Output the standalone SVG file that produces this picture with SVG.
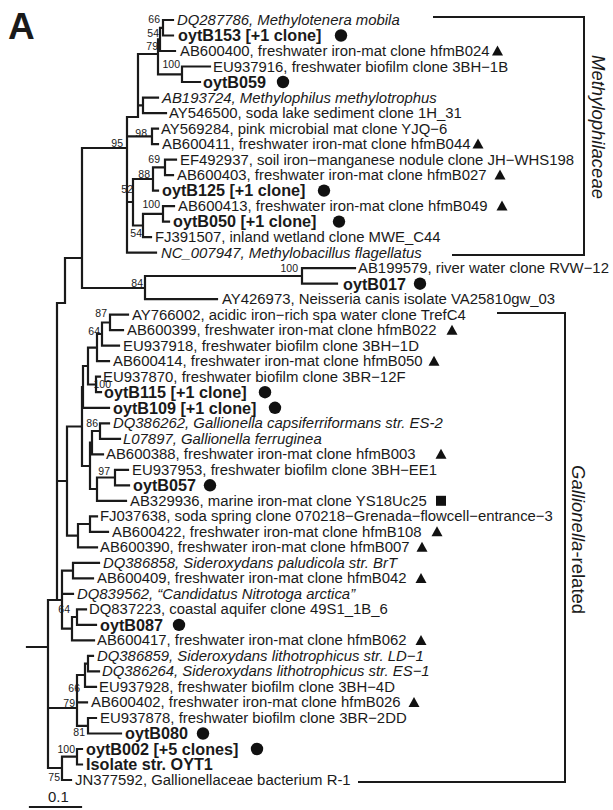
<svg xmlns="http://www.w3.org/2000/svg" width="613" height="810" viewBox="0 0 613 810">
<style>
text{font-family:"Liberation Sans",Arial,sans-serif;fill:#1a1a1a}
.t{font-size:14.9px}
.i{font-size:14.9px;font-style:italic}
.b{font-size:16.2px;font-weight:bold}
.bs{font-size:10.5px;text-anchor:end}
.br{fill:none;stroke:#1a1a1a;stroke-width:2.2;stroke-linecap:square}
.cl{fill:none;stroke:#1a1a1a;stroke-width:2}
.sym{fill:#111}
.lab{font-size:18.5px}
</style>
<defs>
<circle id="dot" r="6.2" class="sym"/>
<path id="tri" d="M0,-5.5L5.5,4.5H-5.5Z" class="sym"/>
<rect id="sq" x="-5" y="-5" width="10" height="10" class="sym"/>
</defs>
<text x="8" y="39" style="font-size:37px;font-weight:bold">A</text>
<g id="connectors">
<path class="br" d="M163,20H173M163,35.5H173M163,20V35.5
M160,27.8V51M160,27.8H163M160,51H175
M182,66.5V82M182,66.5H210M182,82H200
M158,39.4V74.3M158,39.4H160M158,74.3H182
M138,54V117M138,54H158
M143,97.6V113.1M143,97.6H158M143,113.1H166M138,105.3H143
M152,128.6V144.1M152,128.6H158M152,144.1H158
M127,117V252.7M127,117H138M127,136.3H152M82,148H127
M165,159.6V175.1M165,159.6H176M165,175.1H173
M153,167.4V190.6M153,167.4H165M153,190.6H158
M163,206.1V221.6M163,206.1H174M163,221.6H169
M143,213.9V237.1M143,213.9H163M143,237.1H151
M133,179V225.5M133,179H153M133,225.5H143M127,202H133
M127,252.7H156
M302,268.2V283.7M302,268.2H355M302,283.7H337
M145,276V299.2M145,276H302M145,299.2H217
M82,148V288M82,288H145
M65,258V303M65,258H82M57,303H65
M110,314.7V330.2M110,314.7H128M110,330.2H123
M102,322.5V345.7M102,322.5H110M102,345.7H119
M97,334V361.2M97,334H102M97,361.2H109
M96,376.7V392.2M96,376.7H100M96,392.2H101
M88,347.6V384.5M88,347.6H97M88,384.5H96
M83,366V407.8M83,366H88M83,407.8H109
M100,423.3V438.8M100,423.3H109M100,438.8H120
M92,431V454.3M92,431H100M92,454.3H103
M115,469.8V485.3M115,469.8H128M115,485.3H129
M97,477.5V500.8M97,477.5H115M97,500.8H126
M90,442.6V489M90,442.6H92M90,489H97
M82,387V466M82,387H83M82,466H90
M90,516.3V531.8M90,516.3H97M90,531.8H108
M78,524V547.3M78,524H90M78,547.3H97
M67,426.5V535.6M67,426.5H82M67,535.6H78
M73,562.9V578.4M73,562.9H99M73,578.4H93
M77,609.4V624.9M77,609.4H86M77,624.9H96
M72,617V640.4M72,617H77M72,640.4H94
M62,570.6V628.7M62,570.6H73M62,593.9H73M62,628.7H72
M57,303V600M57,481H67
M88,655.9V671.4M88,655.9H93M88,671.4H99
M85,663.6V686.9M85,663.6H88M85,686.9H96
M88,718V733.5M88,718H96M88,733.5H121
M77,675V725.8M77,675H85M77,702.4H87M77,725.8H88
M77,749V764.5M77,749H82M77,764.5H82
M62,756.7V780M62,756.7H77M62,780H71
M48,600V768M48,600H62M48,708H77M48,768H62M27,647H48"/>
<path class="cl" d="M433,17H584V255H452"/>
<path class="cl" d="M497,313H565V782H358"/>
<path class="br" d="M30,807H81"/>
</g>
<g id="bootstrap">
<text class="bs" x="160" y="23">66</text>
<text class="bs" x="159" y="37">54</text>
<text class="bs" x="158" y="50">79</text>
<text class="bs" x="180" y="68">100</text>
<text class="bs" x="147" y="137">98</text>
<text class="bs" x="123" y="147">95</text>
<text class="bs" x="160" y="163">69</text>
<text class="bs" x="150" y="178">88</text>
<text class="bs" x="133" y="193">52</text>
<text class="bs" x="160" y="208">100</text>
<text class="bs" x="142" y="237">54</text>
<text class="bs" x="298" y="272">100</text>
<text class="bs" x="143" y="287">84</text>
<text class="bs" x="107" y="317">87</text>
<text class="bs" x="100" y="335">64</text>
<text class="bs" x="111" y="388">100</text>
<text class="bs" x="98" y="427">86</text>
<text class="bs" x="110" y="475">97</text>
<text class="bs" x="70" y="613">64</text>
<text class="bs" x="80" y="692">66</text>
<text class="bs" x="75" y="707">79</text>
<text class="bs" x="85" y="736">81</text>
<text class="bs" x="75" y="753">100</text>
<text class="bs" x="60" y="781">75</text>
</g>
<g id="leaf01"><text class="i" x="177" y="25">DQ287786, Methylotenera mobila</text></g>
<g id="leaf02"><text class="b" x="178" y="41.3">oytB153 [+1 clone]</text><use href="#dot" x="341" y="35.5"/></g>
<g id="leaf03"><text class="t" x="180" y="56">AB600400, freshwater iron-mat clone hfmB024</text><use href="#tri" x="497.5" y="51"/></g>
<g id="leaf04"><text class="t" x="213" y="71.5">EU937916, freshwater biofilm clone 3BH−1B</text></g>
<g id="leaf05"><text class="b" x="203" y="87.8">oytB059</text><use href="#dot" x="283" y="82"/></g>
<g id="leaf06"><text class="i" x="162" y="102.6">AB193724, Methylophilus methylotrophus</text></g>
<g id="leaf07"><text class="t" x="169" y="118.1">AY546500, soda lake sediment clone 1H_31</text></g>
<g id="leaf08"><text class="t" x="161" y="133.6">AY569284, pink microbial mat clone YJQ−6</text></g>
<g id="leaf09"><text class="t" x="162" y="149.1">AB600411, freshwater iron-mat clone hfmB044</text><use href="#tri" x="478" y="144.1"/></g>
<g id="leaf10"><text class="t" x="180" y="164.6">EF492937, soil iron−manganese nodule clone JH−WHS198</text></g>
<g id="leaf11"><text class="t" x="177" y="180.1">AB600403, freshwater iron-mat clone hfmB027</text><use href="#tri" x="500" y="175.1"/></g>
<g id="leaf12"><text class="b" x="162" y="196.4">oytB125 [+1 clone]</text><use href="#dot" x="324" y="190.6"/></g>
<g id="leaf13"><text class="t" x="178" y="211.1">AB600413, freshwater iron-mat clone hfmB049</text><use href="#tri" x="502" y="206.1"/></g>
<g id="leaf14"><text class="b" x="173" y="227.4">oytB050 [+1 clone]</text><use href="#dot" x="339" y="221.6"/></g>
<g id="leaf15"><text class="t" x="155" y="242.1">FJ391507, inland wetland clone MWE_C44</text></g>
<g id="leaf16"><text class="i" x="161" y="257.7">NC_007947, Methylobacillus flagellatus</text></g>
<g id="leaf17"><text class="t" x="358" y="273.2">AB199579, river water clone RVW−12</text></g>
<g id="leaf18"><text class="b" x="343" y="289.5">oytB017</text><use href="#dot" x="420" y="283.7"/></g>
<g id="leaf19"><text class="t" x="222" y="304.2">AY426973, Neisseria canis isolate VA25810gw_03</text></g>
<g id="leaf20"><text class="t" x="132" y="319.7">AY766002, acidic iron−rich spa water clone TrefC4</text></g>
<g id="leaf21"><text class="t" x="127" y="335.2">AB600399, freshwater iron-mat clone hfmB022</text><use href="#tri" x="452" y="330.2"/></g>
<g id="leaf22"><text class="t" x="123" y="350.7">EU937918, freshwater biofilm clone 3BH−1D</text></g>
<g id="leaf23"><text class="t" x="113" y="366.2">AB600414, freshwater iron-mat clone hfmB050</text><use href="#tri" x="434" y="361.2"/></g>
<g id="leaf24"><text class="t" x="103" y="381.7">EU937870, freshwater biofilm clone 3BR−12F</text></g>
<g id="leaf25"><text class="b" x="104" y="398">oytB115 [+1 clone]</text><use href="#dot" x="265" y="392.2"/></g>
<g id="leaf26"><text class="b" x="113" y="413.6">oytB109 [+1 clone]</text><use href="#dot" x="275" y="407.8"/></g>
<g id="leaf27"><text class="i" x="113" y="428.3">DQ386262, Gallionella capsiferriformans str. ES-2</text></g>
<g id="leaf28"><text class="i" x="123" y="443.8">L07897, Gallionella ferruginea</text></g>
<g id="leaf29"><text class="t" x="106" y="459.3">AB600388, freshwater iron-mat clone hfmB003</text><use href="#tri" x="441" y="454.3"/></g>
<g id="leaf30"><text class="t" x="132" y="474.8">EU937953, freshwater biofilm clone 3BH−EE1</text></g>
<g id="leaf31"><text class="b" x="133" y="491.1">oytB057</text><use href="#dot" x="210" y="485.3"/></g>
<g id="leaf32"><text class="t" x="130" y="505.8">AB329936, marine iron-mat clone YS18Uc25</text><use href="#sq" x="441" y="500.8"/></g>
<g id="leaf33"><text class="t" x="100" y="521.3">FJ037638, soda spring clone 070218−Grenada−flowcell−entrance−3</text></g>
<g id="leaf34"><text class="t" x="112" y="536.8">AB600422, freshwater iron-mat clone hfmB108</text><use href="#tri" x="437" y="531.8"/></g>
<g id="leaf35"><text class="t" x="100" y="552.3">AB600390, freshwater iron-mat clone hfmB007</text><use href="#tri" x="422" y="547.3"/></g>
<g id="leaf36"><text class="i" x="103" y="567.9">DQ386858, Sideroxydans paludicola str. BrT</text></g>
<g id="leaf37"><text class="t" x="97" y="583.4">AB600409, freshwater iron-mat clone hfmB042</text><use href="#tri" x="421" y="578.4"/></g>
<g id="leaf38"><text class="i" x="77" y="598.9">DQ839562, “Candidatus Nitrotoga arctica”</text></g>
<g id="leaf39"><text class="t" x="89" y="614.4">DQ837223, coastal aquifer clone 49S1_1B_6</text></g>
<g id="leaf40"><text class="b" x="100" y="630.7">oytB087</text><use href="#dot" x="179" y="624.9"/></g>
<g id="leaf41"><text class="t" x="97" y="645.4">AB600417, freshwater iron-mat clone hfmB062</text><use href="#tri" x="421" y="640.4"/></g>
<g id="leaf42"><text class="i" x="97" y="660.9">DQ386859, Sideroxydans lithotrophicus str. LD−1</text></g>
<g id="leaf43"><text class="i" x="102" y="676.4">DQ386264, Sideroxydans lithotrophicus str. ES−1</text></g>
<g id="leaf44"><text class="t" x="99" y="691.9">EU937928, freshwater biofilm clone 3BH−4D</text></g>
<g id="leaf45"><text class="t" x="91" y="707.4">AB600402, freshwater iron-mat clone hfmB026</text><use href="#tri" x="414" y="702.4"/></g>
<g id="leaf46"><text class="t" x="100" y="723">EU937878, freshwater biofilm clone 3BR−2DD</text></g>
<g id="leaf47"><text class="b" x="125" y="739.3">oytB080</text><use href="#dot" x="203" y="733.5"/></g>
<g id="leaf48"><text class="b" x="86" y="754.6">oytB002 [+5 clones]</text><use href="#dot" x="257" y="749"/></g>
<g id="leaf49"><text class="b" x="86" y="770.3">Isolate str. OYT1</text></g>
<g id="leaf50"><text class="t" x="75" y="785">JN377592, Gallionellaceae bacterium R-1</text></g>
<g id="clade-labels">
<text class="lab" style="font-style:italic" transform="translate(592,55) rotate(90)">Methylophilaceae</text>
<text class="lab" transform="translate(572,465) rotate(90)"><tspan style="font-style:italic">Gallionella</tspan>-related</text>
</g>
<text x="48" y="802" style="font-size:14.9px">0.1</text>
</svg>
